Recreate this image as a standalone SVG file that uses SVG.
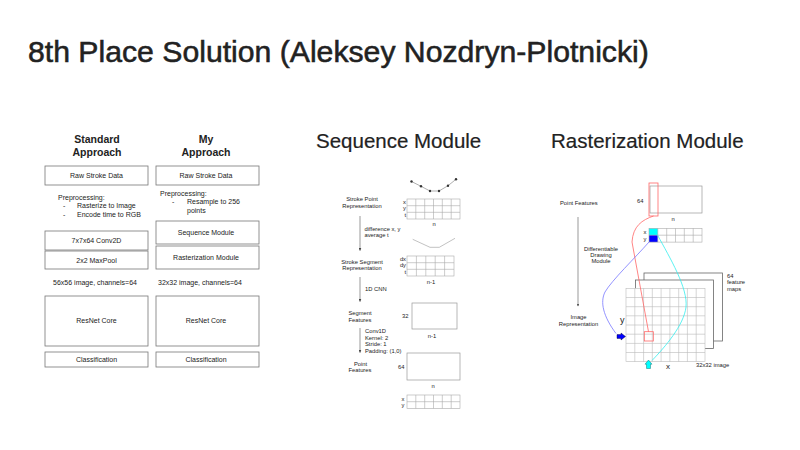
<svg xmlns="http://www.w3.org/2000/svg" width="800" height="450" viewBox="0 0 800 450">
<defs>
<style>
text{font-family:"Liberation Sans",Arial,Helvetica,sans-serif;fill:#222}
.title{font-size:30.2px;stroke:#222;stroke-width:0.55}
.h2{font-size:20.5px;stroke:#222;stroke-width:0.2}
.hd{font-size:10.5px;font-weight:bold;text-anchor:middle}
.t7{font-size:7px}
.c{text-anchor:middle}
.e{text-anchor:end}
.t6{font-size:5.8px}
.box{fill:#fff;stroke:#777;stroke-width:0.8}
.grid{fill:none;stroke:#aaa;stroke-width:0.6}
.gbox{fill:#fff;stroke:#999;stroke-width:0.7}
.arr{stroke:#555;stroke-width:0.6;fill:none}
.layer{fill:#fff;stroke:#666;stroke-width:0.8}
.fg{fill:none;stroke:#bbb;stroke-width:0.6}
</style>
<marker id="ah" viewBox="0 0 6 6" refX="5" refY="3" markerWidth="5" markerHeight="5" orient="auto">
<path d="M0,0.5 L6,3 L0,5.5 z" fill="#444"/>
</marker>
</defs>
<rect width="800" height="450" fill="#fff"/>

<text class="title" x="28" y="62">8th Place Solution (Aleksey Nozdryn-Plotnicki)</text>

<!-- Left column -->
<g id="hdr-standard"><text class="hd" x="97" y="143">Standard</text><text class="hd" x="97" y="155.5">Approach</text></g>
<g id="hdr-my"><text class="hd" x="206" y="143">My</text><text class="hd" x="206" y="155.5">Approach</text></g>

<g id="std-raw"><rect class="box" x="45" y="166" width="103" height="19"/><text class="t7 c" x="96.5" y="178">Raw Stroke Data</text></g>
<g id="std-pre">
<text class="t7" x="58" y="199.5">Preprocessing:</text>
<text class="t7" x="63" y="208">-</text><text class="t7" x="77" y="208">Rasterize to Image</text>
<text class="t7" x="63" y="216.5">-</text><text class="t7" x="77" y="216.5">Encode time to RGB</text>
</g>
<g id="std-conv"><rect class="box" x="45" y="231" width="103" height="19"/><text class="t7 c" x="96.5" y="243">7x7x64 Conv2D</text></g>
<g id="std-pool"><rect class="box" x="45" y="251" width="103" height="18"/><text class="t7 c" x="96.5" y="262.5">2x2 MaxPool</text></g>
<g id="std-img"><text class="t7 c" x="95" y="285">56x56 image, channels=64</text></g>
<g id="std-resnet"><rect class="box" x="45" y="296" width="103" height="50"/><text class="t7 c" x="96.5" y="323">ResNet Core</text></g>
<g id="std-cls"><rect class="box" x="45" y="352" width="103" height="15"/><text class="t7 c" x="96.5" y="362">Classification</text></g>

<g id="my-raw"><rect class="box" x="156" y="166" width="103" height="19"/><text class="t7 c" x="206" y="178">Raw Stroke Data</text></g>
<g id="my-pre">
<text class="t7" x="160" y="196">Preprocessing:</text>
<text class="t7" x="172" y="204">-</text><text class="t7" x="187" y="204">Resample to 256</text>
<text class="t7" x="187" y="212.5">points</text>
</g>
<g id="my-seq"><rect class="box" x="156" y="221" width="103" height="23"/><text class="t7 c" x="206" y="235">Sequence Module</text></g>
<g id="my-rast"><rect class="box" x="156" y="246" width="103" height="23"/><text class="t7 c" x="206" y="260">Rasterization Module</text></g>
<g id="my-img"><text class="t7" x="158" y="285">32x32 image, channels=64</text></g>
<g id="my-resnet"><rect class="box" x="156" y="296" width="103" height="50"/><text class="t7 c" x="206" y="323">ResNet Core</text></g>
<g id="my-cls"><rect class="box" x="156" y="352" width="103" height="15"/><text class="t7 c" x="206" y="362">Classification</text></g>

<!-- Sequence Module -->
<text class="h2" x="316" y="148">Sequence Module</text>

<g id="seq-labels">
<text class="t6 c" x="362" y="201">Stroke Point</text>
<text class="t6 c" x="362" y="208">Representation</text>
<text class="t6" x="364.5" y="230.5">difference x, y</text>
<text class="t6" x="364.5" y="236.5">average t</text>
<text class="t6 c" x="362" y="263.5">Stroke Segment</text>
<text class="t6 c" x="362" y="270">Representation</text>
<text class="t6" x="365" y="291">1D CNN</text>
<text class="t6 c" x="360" y="315">Segment</text>
<text class="t6 c" x="360" y="321.5">Features</text>
<text class="t6" x="365" y="333">Conv1D</text>
<text class="t6" x="365" y="339.5">Kernel: 2</text>
<text class="t6" x="365" y="346">Stride: 1</text>
<text class="t6" x="365" y="352.5">Padding: (1,0)</text>
<text class="t6 c" x="360.5" y="366">Point</text>
<text class="t6 c" x="360" y="372">Features</text>
</g>

<g id="seq-points">
<polyline points="411.5,181.5 421,186.3 430,191 439,191 448,185.7 456,179.3" fill="none" stroke="#777" stroke-width="0.6"/>
<g fill="#333"><circle cx="411.5" cy="181.5" r="1.2"/><circle cx="421" cy="186.3" r="1.2"/><circle cx="430" cy="191" r="1.2"/><circle cx="439" cy="191" r="1.2"/><circle cx="448" cy="185.7" r="1.2"/><circle cx="456" cy="179.3" r="1.2"/></g>
</g>
<g id="seq-grid1">
<rect class="grid" x="407" y="199" width="53" height="20"/>
<path class="grid" d="M407,205.7H460M407,212.3H460M415.8,199V219M424.7,199V219M433.5,199V219M442.3,199V219M451.2,199V219"/>
<text class="t6 e" x="406" y="203.5">x</text><text class="t6 e" x="406" y="210">y</text><text class="t6 e" x="406" y="216.8">t</text>
<text class="t6 c" x="434" y="226">n</text>
</g>
<g id="seq-segs"><polyline points="412.7,239.3 430,247.3 439.3,247.3 455,238.3" fill="none" stroke="#999" stroke-width="0.6"/></g>
<g id="seq-grid2">
<rect class="grid" x="407" y="256" width="47" height="20"/>
<path class="grid" d="M407,262.7H454M407,269.3H454M416.4,256V276M425.8,256V276M435.2,256V276M444.6,256V276"/>
<text class="t6 e" x="406" y="260.5">dx</text><text class="t6 e" x="406" y="267">dy</text><text class="t6 e" x="406" y="273.8">t</text>
<text class="t6 c" x="431" y="284">n-1</text>
</g>
<g id="seq-seg-feat">
<rect class="gbox" x="412" y="303" width="45" height="26"/>
<text class="t6 e" x="408.5" y="318">32</text>
<text class="t6 c" x="432" y="338">n-1</text>
</g>
<g id="seq-pt-feat">
<rect class="gbox" x="407" y="353" width="53" height="27"/>
<text class="t6 e" x="404.5" y="368.5">64</text>
<text class="t6 c" x="433" y="388">n</text>
</g>
<g id="seq-grid3">
<rect class="grid" x="407" y="395" width="53" height="13.4"/>
<path class="grid" d="M407,401.7H460M415.8,395V408.4M424.7,395V408.4M433.5,395V408.4M442.3,395V408.4M451.2,395V408.4"/>
<text class="t6 e" x="404.5" y="400.5">x</text><text class="t6 e" x="404.5" y="407">y</text>
</g>

<!-- Rasterization Module -->
<text class="h2" x="551" y="148">Rasterization Module</text>

<g id="rast-labels">
<text class="t6" x="560" y="205">Point Features</text>
<text class="t6 c" x="601" y="250.5">Differentiable</text>
<text class="t6 c" x="601" y="256.8">Drawing</text>
<text class="t6 c" x="601" y="263">Module</text>
<text class="t6 c" x="578.5" y="319">Image</text>
<text class="t6 c" x="578.5" y="325.5">Representation</text>
</g>

<g id="rast-pf">
<rect class="gbox" x="650" y="186" width="52" height="27" fill="none"/>
<rect x="649" y="183" width="9" height="33" fill="none" stroke="#f66" stroke-width="0.8"/>
<text class="t6 e" x="643.5" y="203">64</text>
<text class="t6 c" x="673" y="220.5">n</text>
</g>

<g id="rast-vec">
<rect x="649" y="228.3" width="8.8" height="6.9" fill="#00ffff"/>
<rect x="649" y="235.2" width="8.8" height="6.9" fill="#0000ff"/>
<rect class="grid" x="649" y="228.3" width="53" height="13.8"/>
<path class="grid" d="M649,235.2H702M657.8,228.3V242.1M666.7,228.3V242.1M675.5,228.3V242.1M684.3,228.3V242.1M693.2,228.3V242.1"/>
<text class="t6 e" x="646.5" y="233.5">x</text><text class="t6 e" x="646.5" y="240.5">y</text>
</g>

<g id="rast-stack">
<rect class="layer" x="644" y="273" width="78.5" height="68"/>
<rect class="layer" x="635.5" y="280" width="78" height="68.5"/>
<rect x="626" y="288.3" width="79" height="73.4" fill="#fff"/>
<rect class="fg" x="626" y="288.3" width="79" height="73.4"/>
<path class="fg" d="M626,297.5H705M626,306.7H705M626,315.8H705M626,325H705M626,334.2H705M626,343.4H705M626,352.5H705M634.8,288.3V361.7M643.6,288.3V361.7M652.3,288.3V361.7M661.1,288.3V361.7M669.9,288.3V361.7M678.7,288.3V361.7M687.4,288.3V361.7M696.2,288.3V361.7"/>
<text class="t6" x="727" y="277.5">64</text>
<text class="t6" x="727" y="284">feature</text>
<text class="t6" x="727" y="290.5">maps</text>
<text class="t6" x="696" y="366.5">32x32 image</text>
</g>

<g id="connectors">
<line class="arr" x1="360" y1="216" x2="360" y2="250.5" marker-end="url(#ah)"/>
<line class="arr" x1="360" y1="277" x2="360" y2="301.5" marker-end="url(#ah)"/>
<line class="arr" x1="360" y1="328" x2="360" y2="352.5" marker-end="url(#ah)"/>
<line class="arr" x1="578" y1="217" x2="578" y2="306" marker-end="url(#ah)"/>
<path d="M653.5,216 C642,220 633,226 632,242 L648.5,331.7" fill="none" stroke="#f66" stroke-width="0.8"/>
<rect x="644.3" y="331.7" width="9" height="9.3" fill="none" stroke="#f66" stroke-width="0.8"/>
<path d="M657.5,235 C670,258 688,288 686,307 C684,325 665,347 652,360.5" fill="none" stroke="#3ee" stroke-width="0.8"/>
<path d="M649,242 C635,258 612,280 605,292 C600,302 603,316 616,333.5" fill="none" stroke="#77f" stroke-width="0.8"/>
<polygon points="617,334.6 621,334.6 621,333 625.5,336.5 621,340 621,338.4 617,338.4" fill="#0000ff" stroke="#002" stroke-width="0.4"/>
<polygon points="646.5,368.5 646.5,364.2 645,364.2 648.5,360 652,364.2 650.5,364.2 650.5,368.5" fill="#00ffff" stroke="#055" stroke-width="0.4"/>
<text x="620" y="323" style="font-size:9px">y</text>
<text x="666" y="369" style="font-size:8px">x</text>
</g>
</svg>
